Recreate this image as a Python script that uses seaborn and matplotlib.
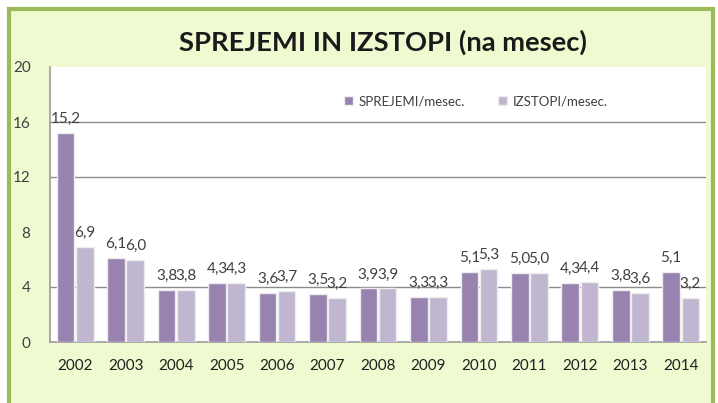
import matplotlib
matplotlib.use("Agg")
import matplotlib.pyplot as plt
import seaborn as sns
import pandas as pd
from matplotlib.patches import Rectangle

years = ["2002", "2003", "2004", "2005", "2006", "2007", "2008",
         "2009", "2010", "2011", "2012", "2013", "2014"]
sprejemi = [15.2, 6.1, 3.8, 4.3, 3.6, 3.5, 3.9, 3.3, 5.1, 5.0, 4.3, 3.8, 5.1]
izstopi = [6.9, 6.0, 3.8, 4.3, 3.7, 3.2, 3.9, 3.3, 5.3, 5.0, 4.4, 3.6, 3.2]
series_names = ["SPREJEMI/mesec.", "IZSTOPI/mesec."]
yticks = [0, 4, 8, 12, 16, 20]
gridlines = [4, 12, 16]
title = "SPREJEMI IN IZSTOPI (na mesec)"

df = pd.DataFrame({
    "leto": years * 2,
    "vrednost": sprejemi + izstopi,
    "serija": [series_names[0]] * len(years) + [series_names[1]] * len(years),
})

sns.set_theme(style="white")
plt.rcParams["font.family"] = ["Lato", "DejaVu Sans"]

W, H = 718, 403
fig = plt.figure(figsize=(W / 100, H / 100), dpi=100)
fig.patch.set_facecolor("white")

bg = Rectangle((9 / W, -0.05), (713 - 9) / W, (394) / H + 0.05,
               transform=fig.transFigure, facecolor="#EFFAD0",
               edgecolor="#9BBB59", linewidth=3, zorder=-10)
fig.patches.append(bg)

ax = fig.add_axes([50 / W, (H - 342) / H, (706 - 50) / W, (342 - 67) / H])
ax.set_zorder(5)
ax.set_facecolor("white")

palette = {series_names[0]: "#9883B0", series_names[1]: "#C0B6CF"}
sns.barplot(data=df, x="leto", y="vrednost", hue="serija", palette=palette,
            order=years, hue_order=series_names, width=0.76, gap=0.08,
            saturation=1, ax=ax, zorder=3, edgecolor="#EDEDED", linewidth=1)

for c in ax.containers:
    labels = [f"{v:.1f}".replace(".", ",") for v in c.datavalues]
    ax.bar_label(c, labels=labels, padding=5, fontsize=11, color="#404040")

for g in gridlines:
    ax.axhline(g, color="#8C8C8C", linewidth=1, zorder=1)

ax.set_ylim(0, 20)
ax.set_yticks(yticks)
ax.set_xlim(-0.5, len(years) - 0.5)
ax.tick_params(axis="y", labelsize=11, labelcolor="#404040", pad=14, length=0)
ax.tick_params(axis="x", labelsize=11, labelcolor="#202020", pad=12, length=0)
ax.set_xlabel("")
ax.set_ylabel("")
for s in ["top", "right"]:
    ax.spines[s].set_visible(False)
ax.spines["left"].set_color("#A0A0A0")
ax.spines["bottom"].set_color("#A0A0A0")

leg = ax.legend(loc="upper left", bbox_to_anchor=(0.43, 0.94), ncol=2,
                frameon=False, fontsize=9.5, handlelength=0.7, handleheight=0.7,
                columnspacing=2.5, handletextpad=0.4, labelcolor="#404040")

fig.text(383 / W, 1 - 42 / H, title, ha="center", va="center",
         fontsize=19.7, fontweight="bold", color="#1A1A1A")

fig.savefig("out.png", dpi=100, facecolor=fig.get_facecolor())
